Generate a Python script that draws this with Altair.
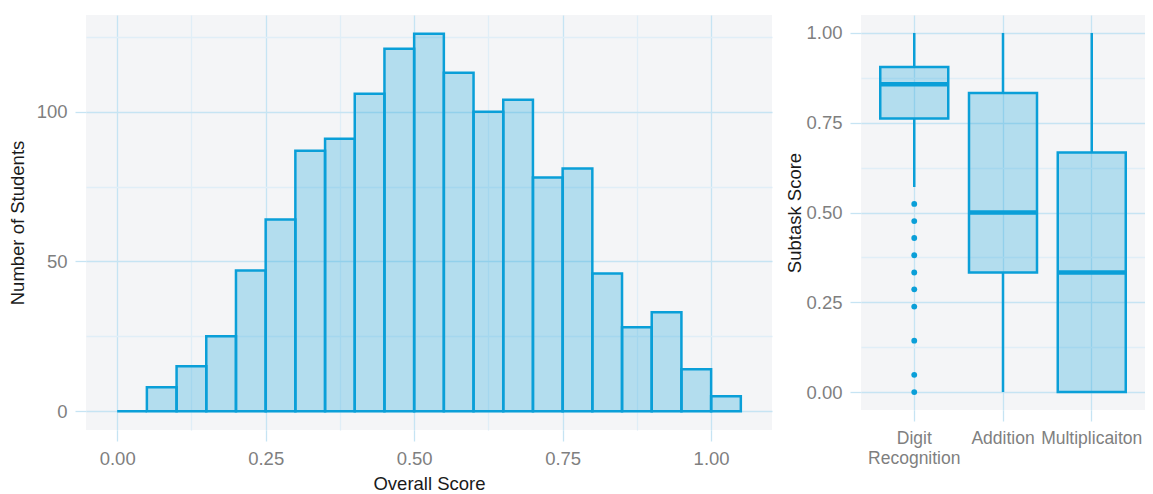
import altair as alt
import pandas as pd

# ---------------- data ----------------
bin_start = [0.00, 0.05, 0.10, 0.15, 0.20, 0.25, 0.30, 0.35, 0.40, 0.45, 0.50,
             0.55, 0.60, 0.65, 0.70, 0.75, 0.80, 0.85, 0.90, 0.95, 1.00]
counts = [0, 8, 15, 25, 47, 64, 87, 91, 106, 121, 126,
          113, 100, 104, 78, 81, 46, 28, 33, 14, 5]
bin_width = 0.05

tasks = ["Digit Recognition", "Addition", "Multiplicaiton"]
lower = [0.571, 0.0, 0.0]
q1 = [0.762, 0.333, 0.0]
median = [0.857, 0.5, 0.333]
q3 = [0.905, 0.833, 0.667]
upper = [1.0, 1.0, 1.0]
outlier_task = ["Digit Recognition"] * 10
outlier_value = [0.524, 0.476, 0.429, 0.381, 0.333, 0.286, 0.238, 0.143, 0.048, 0.0]

hist_x_ticks = [0, 0.125, 0.25, 0.375, 0.5, 0.625, 0.75, 0.875, 1.0]
hist_y_ticks = [0, 25, 50, 75, 100, 125]
box_y_ticks = [0, 0.125, 0.25, 0.375, 0.5, 0.625, 0.75, 0.875, 1.0]

# ---------------- style ----------------
BLUE = "#0a9fd8"
MAJOR = "#c6e4f3"
MINOR = "#e0eef7"
BG = "#f4f5f7"
FONT = "Liberation Sans"

hist_df = pd.DataFrame({
    "start": bin_start,
    "end": [s + bin_width for s in bin_start],
    "count": counts,
})
box_df = pd.DataFrame({
    "task": tasks, "lower": lower, "q1": q1, "median": median,
    "q3": q3, "upper": upper,
})
out_df = pd.DataFrame({"task": outlier_task, "value": outlier_value})


def cond_color(test_major):
    return {"condition": {"test": test_major, "value": MAJOR}, "value": MINOR}


def tick_color(test_major):
    return {"condition": {"test": test_major, "value": MAJOR}, "value": "rgba(0,0,0,0)"}


frac_major = "round(datum.value*1000) % 250 == 0"
count_major = "datum.value % 50 == 0"

x_axis = alt.Axis(
    values=hist_x_ticks, title="Overall Score",
    labelExpr=f"{frac_major} ? format(datum.value, '.2f') : ''",
    gridColor=cond_color(frac_major), tickColor=tick_color(frac_major),
    labelOverlap=False, labelFlush=False, labelPadding=8, titlePadding=7,
)
y_axis = alt.Axis(
    values=hist_y_ticks, title="Number of Students",
    labelExpr=f"{count_major} ? datum.label : ''",
    gridColor=cond_color(count_major), tickColor=tick_color(count_major),
    labelOverlap=False, labelFlush=False, labelPadding=8, titlePadding=9,
)

hist = alt.Chart(hist_df).mark_rect(
    fill=BLUE, fillOpacity=0.28, stroke=BLUE, strokeWidth=2.5
).encode(
    x=alt.X("start:Q", scale=alt.Scale(domain=[-0.0525, 1.1025], nice=False, zero=False), axis=x_axis),
    x2="end:Q",
    y=alt.Y("count:Q", scale=alt.Scale(domain=[-6.3, 132.3], nice=False, zero=False), axis=y_axis),
    y2=alt.datum(0),
).properties(width=686, height=415)

# ---------------- boxplot ----------------
xb = alt.X(
    "task:N", sort=tasks,
    scale=alt.Scale(domain=tasks, paddingInner=0, paddingOuter=0.1),
    axis=alt.Axis(
        title=None, labelAngle=0, bandPosition=0.5, grid=True,
        gridColor=MAJOR, tickColor=MAJOR, labelPadding=8, labelLineHeight=20,
        labelFontSize=17.5,
        labelExpr="datum.label == 'Digit Recognition' ? ['Digit', 'Recognition'] : datum.label",
        labelLimit=200,
    ),
)
yscale = alt.Scale(domain=[-0.05, 1.05], nice=False, zero=False)
yb_axis = alt.Axis(
    values=box_y_ticks, title="Subtask Score",
    labelExpr=f"{frac_major} ? format(datum.value, '.2f') : ''",
    gridColor=cond_color(frac_major), tickColor=tick_color(frac_major),
    labelOverlap=False, labelFlush=False, labelPadding=8, titlePadding=1.5,
)

base = alt.Chart(box_df).encode(x=xb)
whisk_lo = base.mark_rule(color=BLUE, strokeWidth=2.5).encode(
    y=alt.Y("lower:Q", scale=yscale, axis=yb_axis), y2="q1:Q")
whisk_hi = base.mark_rule(color=BLUE, strokeWidth=2.5).encode(
    y=alt.Y("q3:Q", scale=yscale), y2="upper:Q")
box = base.mark_bar(size=68, fill=BLUE, fillOpacity=0.28, stroke=BLUE, strokeWidth=2.5).encode(
    y=alt.Y("q1:Q", scale=yscale), y2="q3:Q")
med = base.mark_tick(size=68, thickness=4.5, color=BLUE, opacity=1).encode(
    y=alt.Y("median:Q", scale=yscale))
outs = alt.Chart(out_df).mark_circle(size=34, color=BLUE, opacity=1).encode(
    x=alt.X("task:N", sort=tasks), y=alt.Y("value:Q", scale=yscale))

boxplot = alt.layer(whisk_lo, whisk_hi, box, med, outs).properties(width=284, height=395)

chart = alt.hconcat(hist, boxplot, spacing=13).properties(
    padding={"left": 0, "top": 7, "right": 0, "bottom": 0}
).configure_view(
    fill=BG, strokeWidth=0
).configure_axis(
    labelFont=FONT, titleFont=FONT, labelFontSize=18.5, titleFontSize=18.5,
    labelColor="#7f7f7f", titleColor="#1a1a1a", titleFontWeight="normal",
    domain=False, tickSize=11, tickWidth=1.3, gridWidth=1.3,
)

chart.save("out.html", embed_options={"renderer": "svg", "actions": False})
